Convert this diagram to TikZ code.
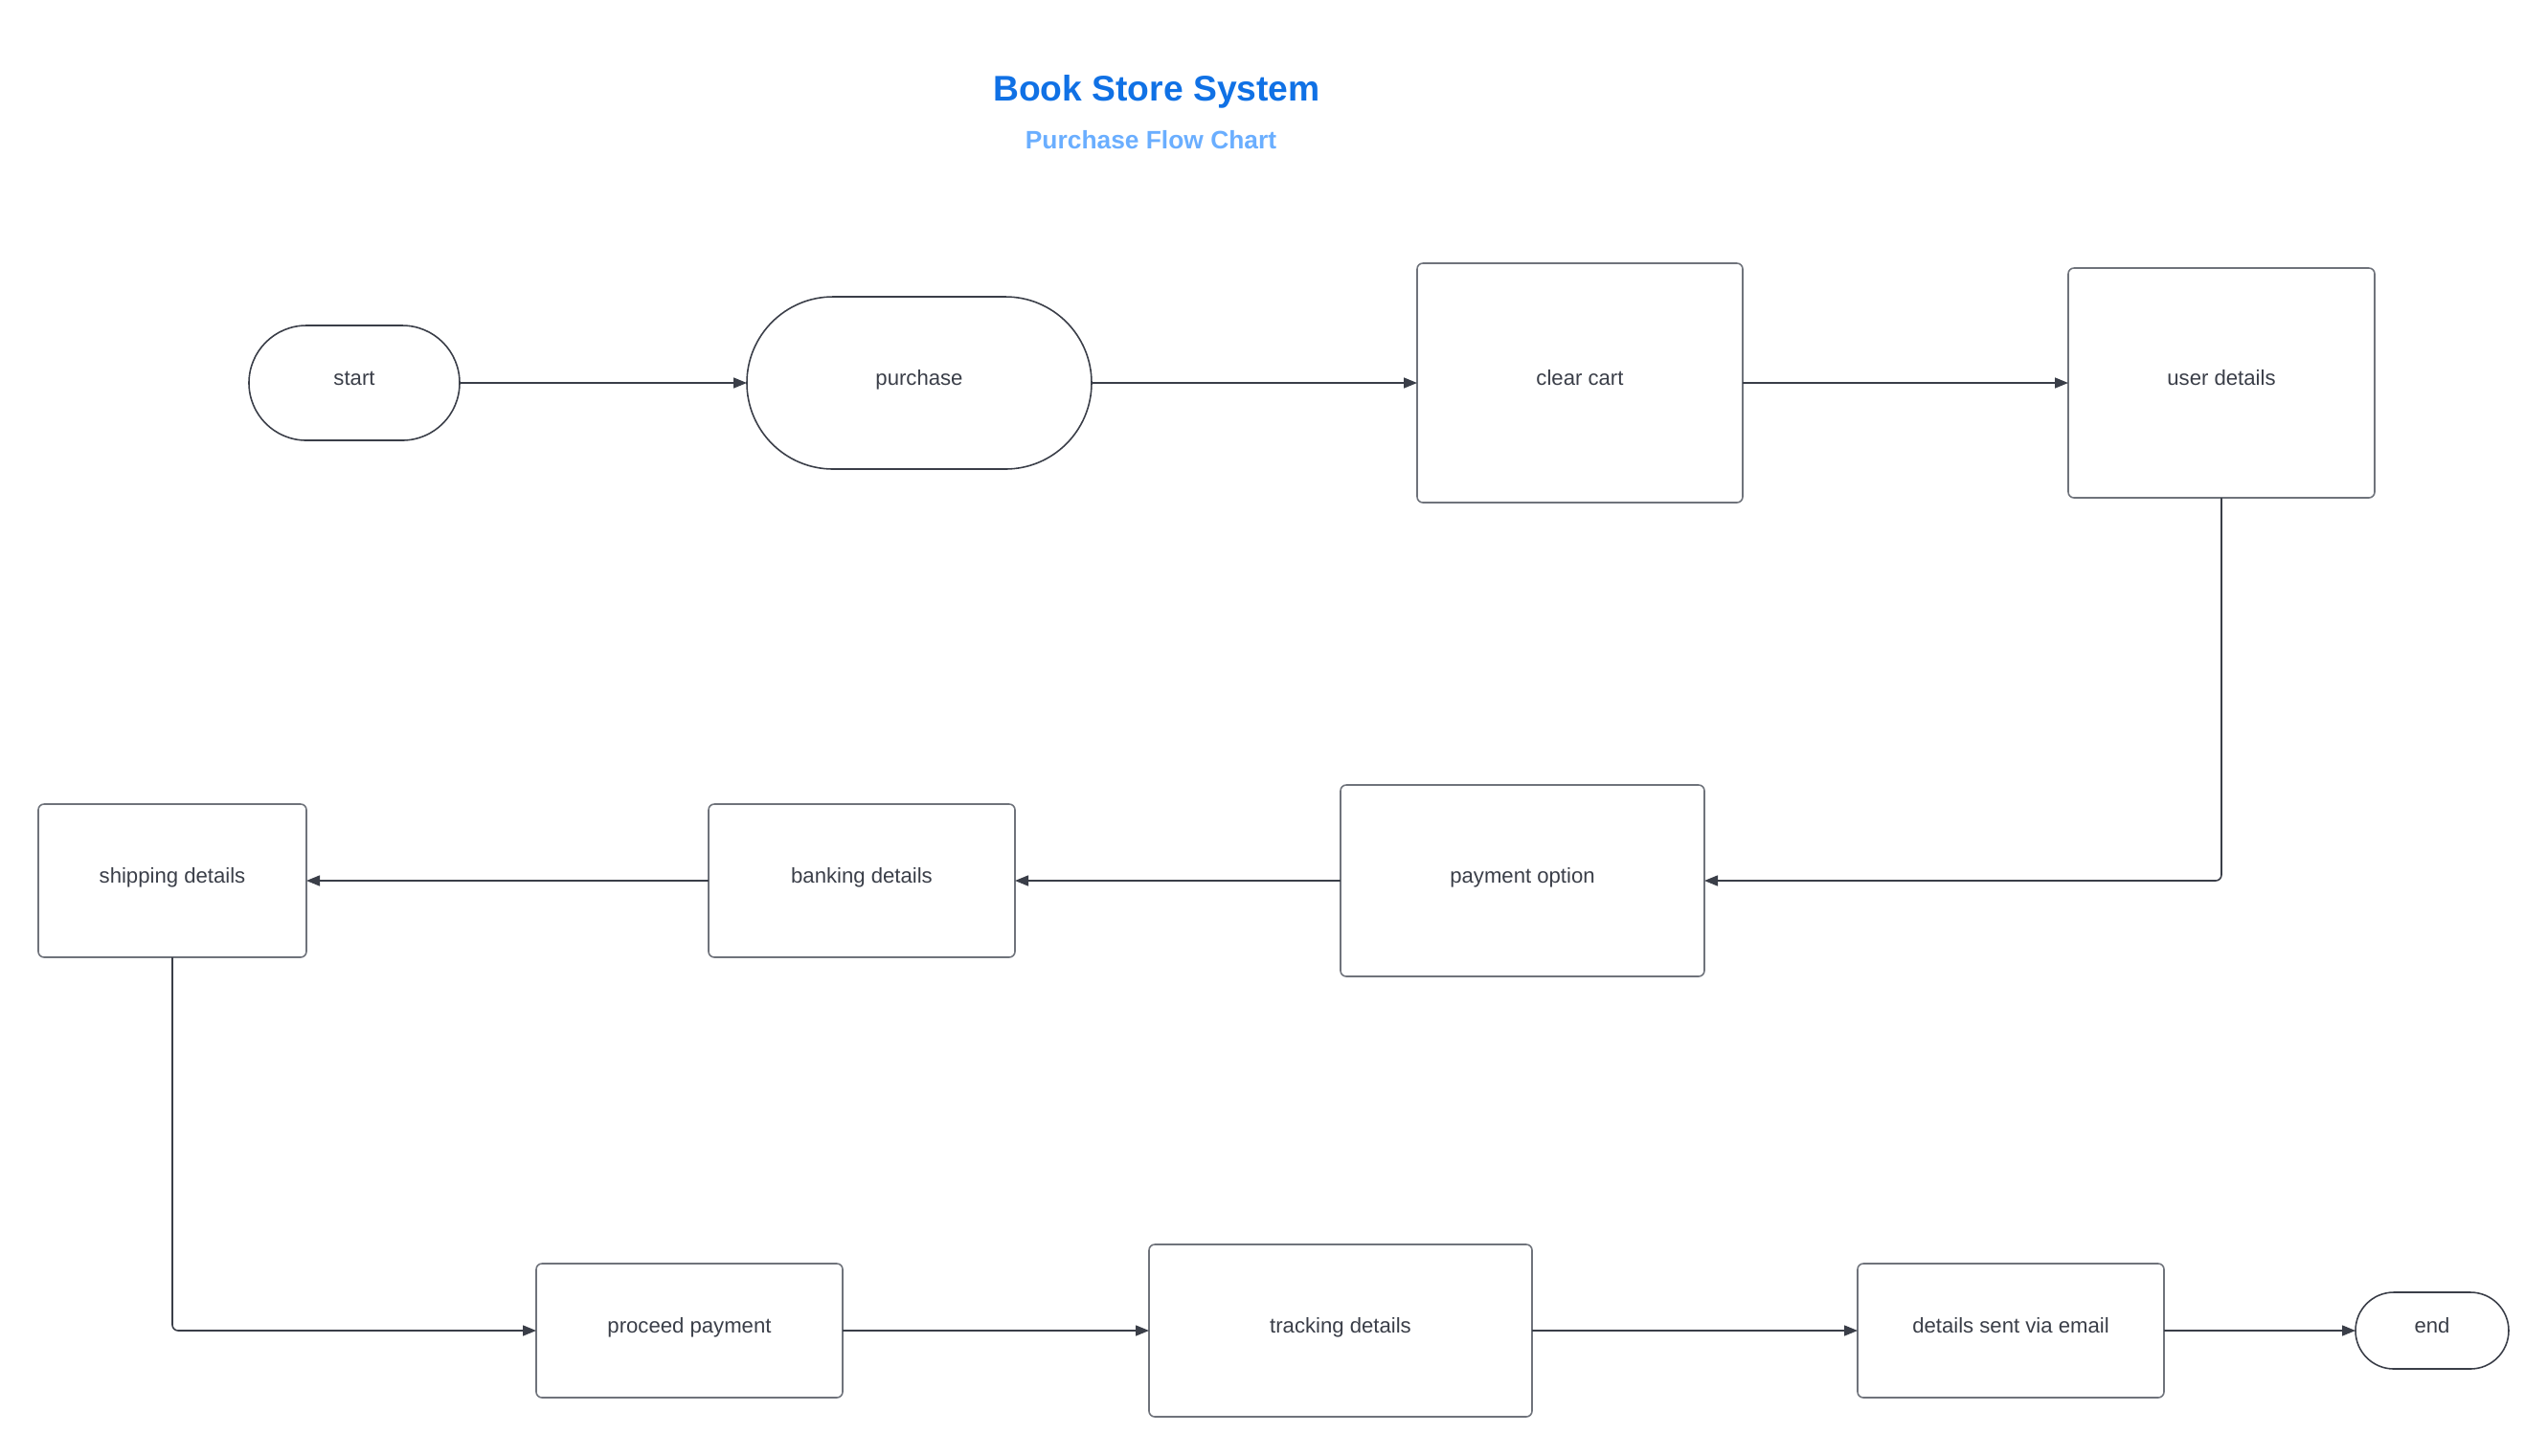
\documentclass[tikz,border=0pt]{standalone}
\usepackage{fontspec}
\setmainfont{Liberation Sans}
\usepackage{xcolor}
\usepackage{tikz}
\usetikzlibrary{arrows.meta}
\definecolor{ink}{HTML}{3A3E48}
\definecolor{frame}{HTML}{6F737B}
\definecolor{titleblue}{HTML}{1071E5}
\definecolor{subblue}{HTML}{6AAEFF}
\tikzset{
  box/.style={draw=frame, line width=0.45pt, rounded corners=0.06cm, inner sep=0pt, outer sep=0pt, text=ink, text height=0.16cm, text depth=0.12cm, font=\fontsize{6.3}{7.5}\selectfont},
  term/.style={box, draw=ink},
  flow/.style={draw=ink, line width=0.45pt, -{Triangle[length=0.14cm,width=0.11cm]}},
  ttl/.style={text=titleblue, font=\bfseries\fontsize{10.6}{12}\selectfont},
  subttl/.style={text=subblue, font=\bfseries\fontsize{7.5}{9}\selectfont},
}

\begin{document}
\begin{tikzpicture}
  \useasboundingbox (0,0) rectangle (26.6,-15.2);
  \node[ttl] (title) at (12.08,-0.96) {Book Store System};
  \node[subttl] (subtitle) at (12.02,-1.46) {Purchase Flow Chart};

  \node[term, minimum width=2.2cm, minimum height=1.2cm, rounded corners=0.6cm] (start) at (3.70,-4.00) {start};
  \node[term, minimum width=3.6cm, minimum height=1.8cm, rounded corners=0.9cm] (purchase) at (9.60,-4.00) {purchase};
  \node[box, minimum width=3.4cm, minimum height=2.5cm] (clear) at (16.50,-4.00) {clear cart};
  \node[box, minimum width=3.2cm, minimum height=2.4cm] (user) at (23.20,-4.00) {user details};

  \node[box, minimum width=3.8cm, minimum height=2.0cm] (payopt) at (15.90,-9.20) {payment option};
  \node[box, minimum width=3.2cm, minimum height=1.6cm] (bank) at (9.00,-9.20) {banking details};
  \node[box, minimum width=2.8cm, minimum height=1.6cm] (ship) at (1.80,-9.20) {shipping details};

  \node[box, minimum width=3.2cm, minimum height=1.4cm] (proceed) at (7.20,-13.90) {proceed payment};
  \node[box, minimum width=4.0cm, minimum height=1.8cm] (track) at (14.00,-13.90) {tracking details};
  \node[box, minimum width=3.2cm, minimum height=1.4cm] (email) at (21.00,-13.90) {details sent via email};
  \node[term, minimum width=1.6cm, minimum height=0.8cm, rounded corners=0.4cm] (end) at (25.40,-13.90) {end};

  \draw[flow] (start.east) -- (purchase.west);
  \draw[flow] (purchase.east) -- (clear.west);
  \draw[flow] (clear.east) -- (user.west);
  \draw[flow, rounded corners=0.06cm] (user.south) |- (payopt.east);
  \draw[flow] (payopt.west) -- (bank.east);
  \draw[flow] (bank.west) -- (ship.east);
  \draw[flow, rounded corners=0.06cm] (ship.south) |- (proceed.west);
  \draw[flow] (proceed.east) -- (track.west);
  \draw[flow] (track.east) -- (email.west);
  \draw[flow] (email.east) -- (end.west);
\end{tikzpicture}
\end{document}
